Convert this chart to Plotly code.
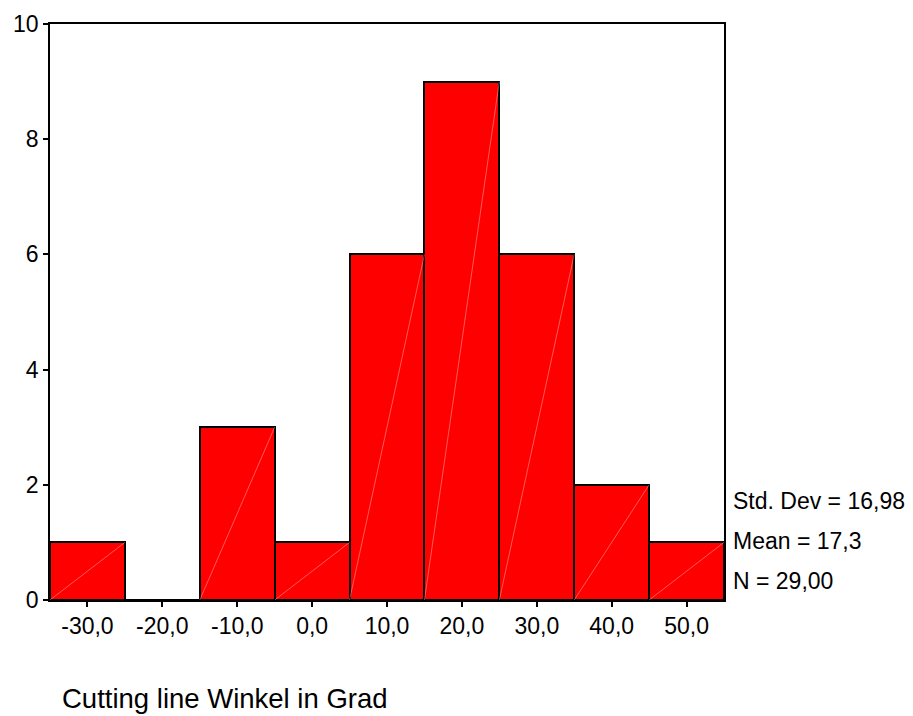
import plotly.graph_objects as go

# Data
bin_centers = [-30, -20, -10, 0, 10, 20, 30, 40, 50]
counts = [1, 0, 3, 1, 6, 9, 6, 2, 1]
bin_width = 10
x_tick_vals = [-30, -20, -10, 0, 10, 20, 30, 40, 50]
x_tick_text = ["-30,0", "-20,0", "-10,0", "0,0", "10,0", "20,0", "30,0", "40,0", "50,0"]
y_tick_vals = [0, 2, 4, 6, 8, 10]
stats_lines = ["Std. Dev = 16,98", "Mean = 17,3", "N = 29,00"]
x_title = "Cutting line Winkel in Grad"

FONT = "Liberation Sans, Arial, sans-serif"
TICK_SIZE = 23

fig = go.Figure()
fig.add_trace(go.Bar(
    x=bin_centers, y=counts, width=bin_width,
    marker=dict(color="#FF0000", line=dict(color="black", width=2)),
    hoverinfo="x+y",
))

# faint diagonal rendering lines inside each bar (bottom-left to top-right)
dx, dy = [], []
for c, n in zip(bin_centers, counts):
    if n > 0:
        dx += [c - bin_width / 2, c + bin_width / 2, None]
        dy += [0, n, None]
fig.add_trace(go.Scatter(x=dx, y=dy, mode="lines",
                         line=dict(color="rgba(255,255,255,0.35)", width=1),
                         hoverinfo="skip"))

annotations = []
stat_y_px = [501, 541, 581]
for txt, ypx in zip(stats_lines, stat_y_px):
    annotations.append(dict(
        text=txt, xref="paper", yref="paper",
        x=(731 - 50) / 674, y=(600 - ypx) / 576,
        xanchor="left", yanchor="middle", showarrow=False,
        font=dict(family=FONT, size=23, color="black")))
annotations.append(dict(
    text=x_title, xref="paper", yref="paper",
    x=(60 - 50) / 674, y=(600 - 698) / 576,
    xanchor="left", yanchor="middle", showarrow=False,
    font=dict(family=FONT, size=27.5, color="black")))

fig.update_layout(
    width=913, height=716,
    margin=dict(l=50, r=189, t=24, b=116),
    paper_bgcolor="white", plot_bgcolor="white",
    showlegend=False, bargap=0,
    font=dict(family=FONT, size=TICK_SIZE, color="black"),
    annotations=annotations,
    xaxis=dict(range=[-35, 55], tickvals=x_tick_vals, ticktext=x_tick_text,
               ticks="outside", ticklen=5, tickwidth=1.5, tickcolor="black",
               showline=True, linecolor="black", linewidth=1.5, mirror=True,
               showgrid=False, zeroline=False,
               tickfont=dict(family=FONT, size=TICK_SIZE, color="black")),
    yaxis=dict(range=[0, 10], tickvals=y_tick_vals,
               ticks="outside", ticklen=5, tickwidth=1.5, tickcolor="black",
               showline=True, linecolor="black", linewidth=1.5, mirror=True,
               showgrid=False, zeroline=False,
               tickfont=dict(family=FONT, size=TICK_SIZE, color="black")),
)

fig.write_html("out.html")
